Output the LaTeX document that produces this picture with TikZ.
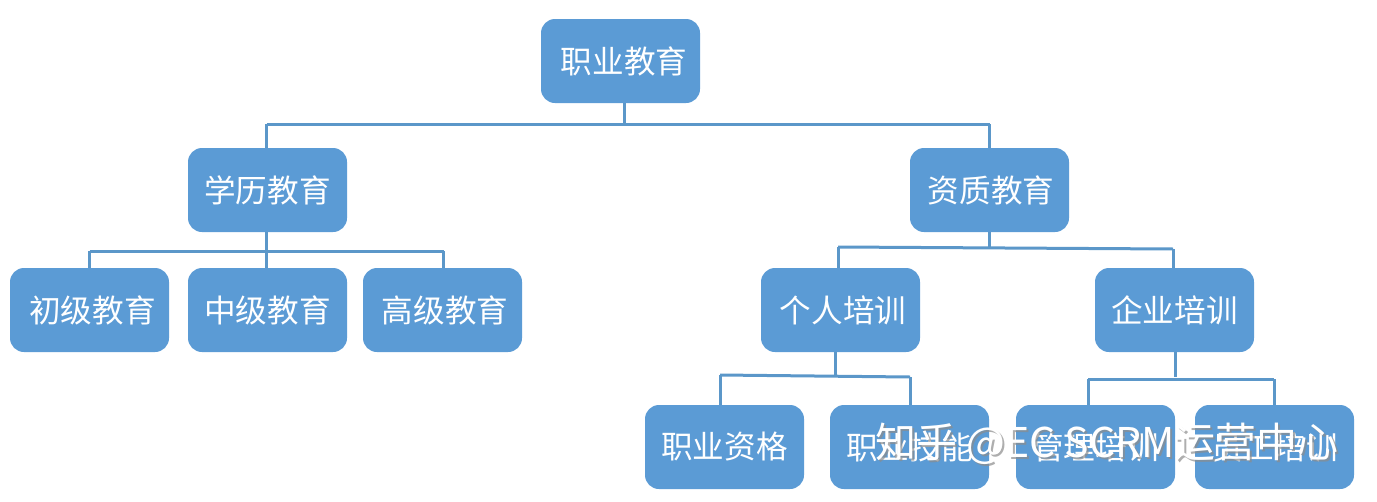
\documentclass[tikz,border=0pt]{standalone}
\usepackage{fontspec}
\setmainfont{Noto Sans CJK SC}
\definecolor{boxblue}{HTML}{5B9BD5}
\definecolor{linkblue}{HTML}{5B97C9}
\tikzset{
  box/.style={fill=boxblue,draw=none,rounded corners=14pt,minimum width=159pt,minimum height=84pt,inner sep=0pt,text=white,font=\fontsize{31.6}{36}\selectfont,anchor=center},
  boxtext/.style={yshift=-1.5pt},
  link/.style={draw=linkblue,line width=3pt},
  mark text/.style={font=\fontsize{41}{46}\selectfont,inner sep=0pt,anchor=center}
}
\begin{document}
\begin{tikzpicture}[x=1pt,y=-1pt]
\useasboundingbox (0,0) rectangle (1377,501);
\coordinate (j0) at (624.5,124);
\coordinate (jL) at (266.5,124);
\coordinate (jR) at (989.5,124);
\coordinate (j1) at (266.5,251);
\coordinate (j1L) at (89.5,251);
\coordinate (j1R) at (443.5,251);
\coordinate (j2) at (989.5,248);
\coordinate (j2L) at (838,247);
\coordinate (j2R) at (1173,249);
\coordinate (j3) at (835,376);
\coordinate (j3L) at (720,375);
\coordinate (j3R) at (910,377);
\coordinate (j4) at (1175,379);
\coordinate (j4L) at (1088,379);
\coordinate (j4R) at (1274,379);
\node[box] (root) at (620.5,61) {\raisebox{-1.5pt}{\hspace{7pt}职业教育}};
\node[box] (xl) at (267.5,190) {\raisebox{-1.5pt}{学历教育}};
\node[box] (zz) at (989.5,190) {\raisebox{-1.5pt}{\hspace{3pt}资质教育}};
\node[box] (cj) at (89.5,310) {\raisebox{-1.5pt}{\hspace{6pt}初级教育}};
\node[box] (zj) at (267.5,310) {\raisebox{-1.5pt}{中级教育}};
\node[box] (gj) at (442.5,310) {\raisebox{-1.5pt}{\hspace{5pt}高级教育}};
\node[box] (gr) at (840.5,310) {\raisebox{-1.5pt}{\hspace{5pt}个人培训}};
\node[box] (qy) at (1174.5,310) {\raisebox{-1.5pt}{企业培训}};
\node[box] (zg) at (724.5,447) {\raisebox{-1.5pt}{职业资格}};
\node[box] (jn) at (909.5,447) {\raisebox{-1.5pt}{职业技能}};
\node[box] (gl) at (1095.5,447) {\raisebox{-1.5pt}{管理培训}};
\node[box] (yg) at (1274.5,447) {\raisebox{-1.5pt}{员工培训}};
\draw[link] (root.south -| j0) -- (j0);
\draw[link] (jL) -- (jR);
\draw[link] (jL) -- (xl.north -| jL);
\draw[link] (jR) -- (zz.north -| jR);
\draw[link] (xl.south -| j1) -- (zj.north -| j1);
\draw[link] (j1L) -- (j1R);
\draw[link] (j1L) -- (cj.north -| j1L);
\draw[link] (j1R) -- (gj.north -| j1R);
\draw[link] (zz.south -| j2) -- (j2);
\draw[link] (j2L) -- (j2R);
\draw[link] (j2L) -- (gr.north -| j2L);
\draw[link] (j2R) -- (qy.north -| j2R);
\draw[link] (gr.south -| j3) -- (j3);
\draw[link] (j3L) -- (j3R);
\draw[link] (j3L) -- (zg.north -| j3L);
\draw[link] (j3R) -- (jn.north -| j3R);
\draw[link] (qy.south -| j4) -- ([yshift=2pt]j4);
\draw[link] (j4L) -- (j4R);
\draw[link] (j4L) -- (gl.north -| j4L);
\draw[link] (j4R) -- (yg.north -| j4R);
\node[mark text,text=black!45,opacity=.7] (wmshadow) at (1109,446) {知乎 @EC SCRM运营中心};
\node[mark text,text=white] (wm) at (1107,444) {知乎 @EC SCRM运营中心};
\end{tikzpicture}
\end{document}
